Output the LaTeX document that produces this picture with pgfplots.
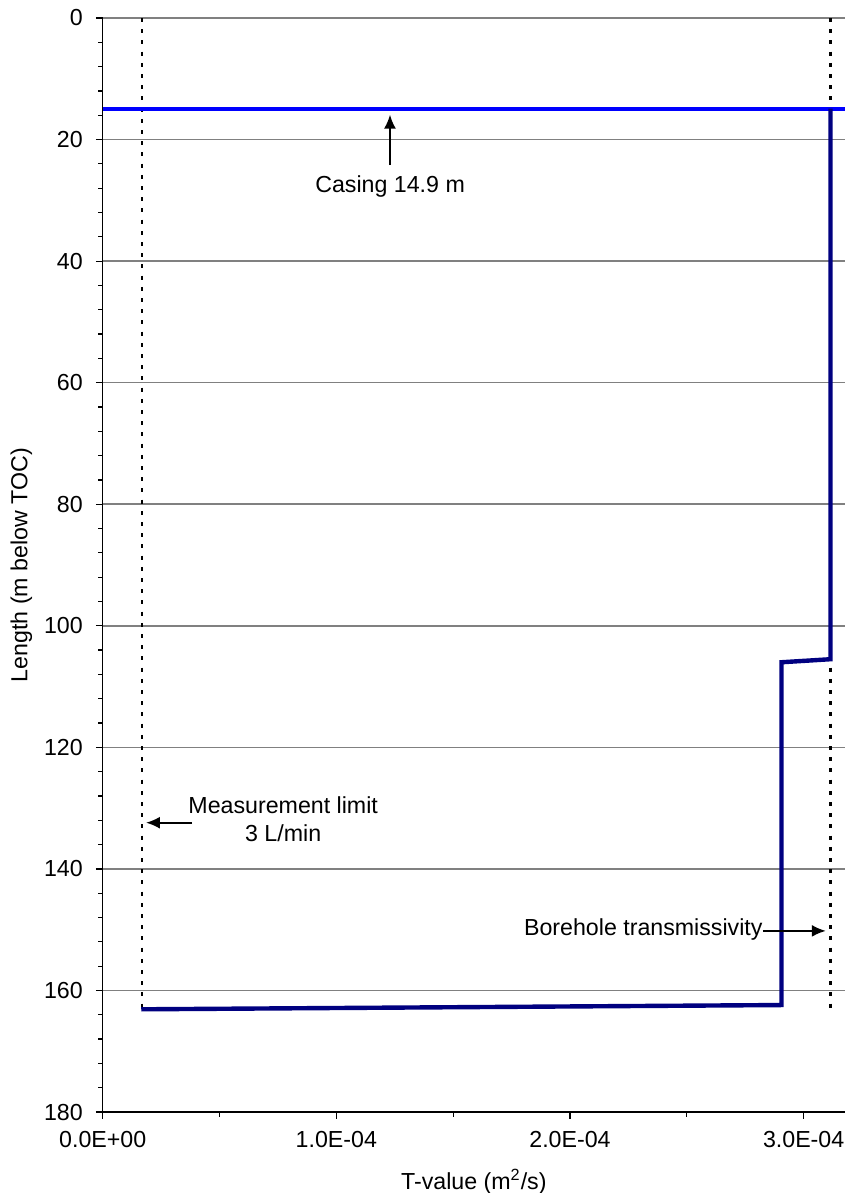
\documentclass[border=0pt]{standalone}
\usepackage{fontspec}
\setmainfont{Liberation Sans}
\usepackage{pgfplots}
\pgfplotsset{compat=1.18}
\usetikzlibrary{arrows.meta}
\definecolor{navyline}{RGB}{0,0,128}
\definecolor{casingblue}{RGB}{0,0,255}
\definecolor{gridgray}{RGB}{128,128,128}
\begin{document}
\fontsize{11.6pt}{13.9pt}\selectfont
\begin{tikzpicture}
\useasboundingbox (-51.35pt,-40.5pt) rectangle (371.15pt,556pt);
\begin{axis}[
  at={(0,0)}, anchor=south west,
  scale only axis, width=371.15pt, height=547pt,
  xmin=0, xmax=3.177e-4, ymin=0, ymax=180, y dir=reverse,
  axis x line*=bottom, axis y line*=left,
  axis line style={black, line width=0.8pt},
  tick align=outside,
  major tick length=3.4pt, minor tick length=2.3pt,
  tick style={black, line width=0.6pt},
  xtick={0,1e-4,2e-4,3e-4},
  xticklabels={0.0E+00,1.0E-04,2.0E-04,3.0E-04},
  minor xtick={0.5e-4,1.5e-4,2.5e-4},
  scaled x ticks=false,
  ytick={0,20,...,180},
  minor y tick num=4,
  ymajorgrids, major grid style={gridgray, line width=0.8pt},
  /pgf/number format/assume math mode=true,
  ticklabel style={font=\fontsize{11.6pt}{13.9pt}\selectfont},
  xticklabel style={yshift=-2pt},
  yticklabel style={xshift=-2.5pt},
  label style={font=\fontsize{11.6pt}{13.9pt}\selectfont},
  xlabel={T-value (m\textsuperscript{2}/s)},
  xlabel style={yshift=-3pt},
  ylabel={Length (m below TOC)},
  ylabel style={yshift=-2pt},
  clip=true,
]
% measurement limit and borehole transmissivity (dotted)
\addplot[black, line width=1.1pt, dash pattern=on 2pt off 3.6pt] coordinates {(1.67e-5,0) (1.67e-5,163)};
\addplot[black, line width=1.1pt, dash pattern=on 2pt off 3.6pt] coordinates {(3.115e-4,0) (3.115e-4,163)};
% casing
\addplot[casingblue, line width=2pt] coordinates {(0,14.9) (3.177e-4,14.9)};
% T profile
\addplot[navyline, line width=2.2pt] coordinates {
  (3.115e-4,14.9) (3.115e-4,105.5) (2.905e-4,106.0) (2.905e-4,162.4) (1.65e-5,163.1)};
% annotations
\draw[-{Latex[length=7pt,width=6pt]}, line width=1pt] (axis cs:1.2295e-4,24.2) -- (axis cs:1.2295e-4,15.9);
\node[anchor=center] at (axis cs:1.23e-4,27.8) {Casing 14.9 m};
\draw[-{Latex[length=7pt,width=6pt]}, line width=1pt] (axis cs:0.383e-4,132.4) -- (axis cs:0.185e-4,132.4);
\node[align=center, anchor=center, inner sep=0pt] at (axis cs:0.7725e-4,131.8) {Measurement limit\\3 L/min};
\draw[-{Latex[length=7pt,width=6pt]}, line width=1pt] (axis cs:2.826e-4,150.2) -- (axis cs:3.095e-4,150.2);
\node[anchor=east, inner sep=0pt] at (axis cs:2.826e-4,150.0) {Borehole transmissivity};
\end{axis}
\end{tikzpicture}
\end{document}
